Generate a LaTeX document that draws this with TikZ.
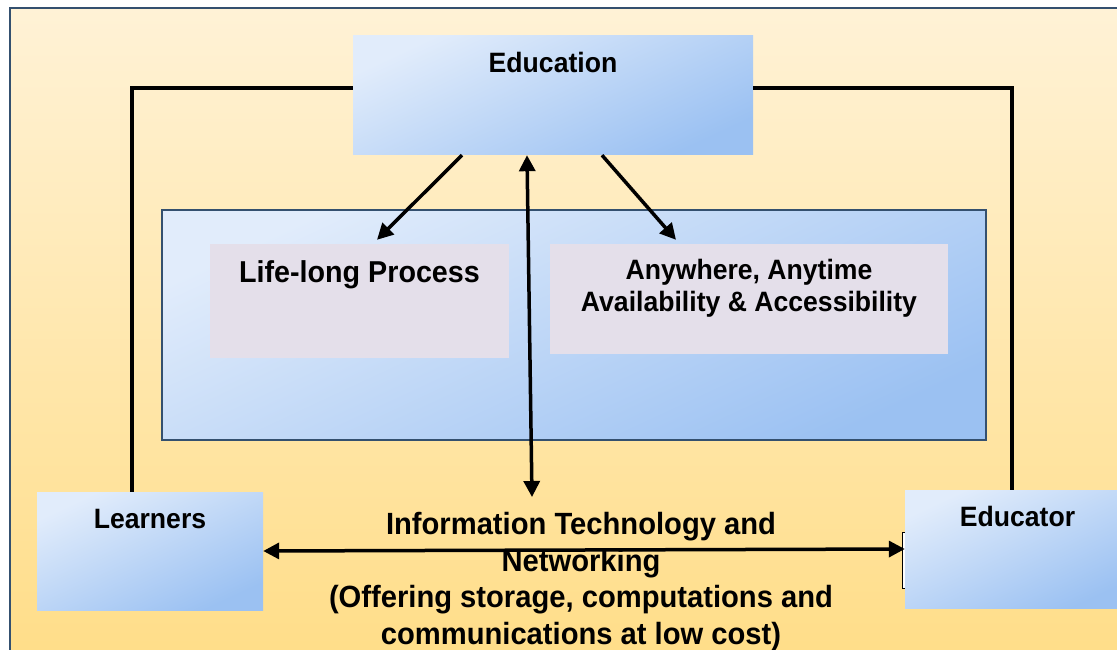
\documentclass[tikz,border=0pt]{standalone}
\usepackage{fontspec}
\setmainfont{Liberation Sans}[FakeStretch=0.95]
\usetikzlibrary{arrows.meta}
\definecolor{paper}{HTML}{FFF2D6}
\definecolor{sand}{HTML}{FFDD87}
\definecolor{frameblue}{HTML}{34506F}
\definecolor{skylight}{HTML}{E1ECFB}
\definecolor{skydark}{HTML}{9BC1F2}
\definecolor{lilac}{HTML}{E4DFEA}
\tikzset{>={Triangle[length=16pt,width=16pt]}}
\tikzset{
  bluebox/.style={draw=none, top color=skylight, bottom color=skydark, shading angle=25, inner sep=0pt},
  lilacbox/.style={fill=lilac, inner sep=0pt},
  caption/.style={font=\bfseries\fontsize{28}{36.5}\selectfont, anchor=base, inner sep=0pt, align=center},
  link/.style={line width=3.5pt},
}

\begin{document}
\begin{tikzpicture}[x=1pt,y=-1pt]
    \useasboundingbox (0,0) rectangle (1117,650);
    % page background
    \draw[frameblue, line width=2pt, top color=paper, bottom color=sand] (10,8) rectangle (1135,670);
    % inner panel and its two boxes
    \node[bluebox, draw=frameblue, line width=2pt, minimum width=824pt, minimum height=230pt] (panel) at (574,325) {};
    \node[lilacbox, minimum width=299pt, minimum height=114pt] (life) at (359.5,301) {};
    \node[lilacbox, minimum width=398pt, minimum height=110pt] (any) at (749,299) {};
    \node[caption, font=\bfseries\fontsize{30.2}{36}\selectfont] (lifeTxt) at ([yshift=-39pt]life.north) {Life-long Process};
    \node[caption, font=\bfseries\fontsize{28}{32.5}\selectfont] (anyTxt) at ([yshift=-68pt]any.north) {Anywhere, Anytime\\Availability \& Accessibility};
    % top box
    \node[bluebox, minimum width=400pt, minimum height=119pt] (edu) at (553,95.5) {};
    \node[caption] (eduTxt) at ([yshift=-37pt]edu.north) {Education};
    % bottom row
    \node[caption, font=\bfseries\fontsize{30.7}{36.5}\selectfont] (itTxt) at (581,644)
        {Information Technology and\\Networking\\(Offering storage, computations and\\communications at low cost)};
    \node[draw, fill=white, line width=0.8pt, minimum width=14pt, minimum height=56pt, inner sep=0pt] (brace) at (909,560) {};
    \node[bluebox, minimum width=226pt, minimum height=118pt] (learn) at (150,551) {};
    \node[bluebox, minimum width=225pt, minimum height=118pt] (educ) at (1017.5,549) {};
    \node[caption] (learnTxt) at ([yshift=-37pt]learn.north) {Learners};
    \node[caption] (educTxt) at ([yshift=-37pt]educ.north) {Educator};
    % side links
    \draw[link] ([yshift=7.5pt]edu.west) -| ([xshift=-18pt]learn.north);
    \draw[link] ([yshift=7.5pt]edu.east) -| ([xshift=-5.5pt]educ.north);
    % arrows out of Education
    \draw[link,->] ([xshift=-91pt]edu.south) -- ([xshift=17.5pt,yshift=4pt]life.north);
    \draw[link,->] ([xshift=49pt]edu.south) -- ([xshift=-73pt,yshift=4pt]any.north);
    \coordinate (itTop) at (532,497);
    \draw[link,<->] ([xshift=-26pt]edu.south) -- (itTop);
    \draw[link,<->] (learn.east) -- (educ.west);
\end{tikzpicture}
\end{document}
